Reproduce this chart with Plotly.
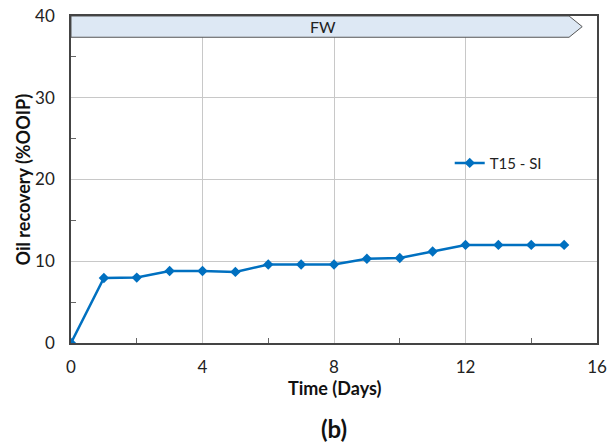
import plotly.graph_objects as go

# Data
days = [0, 1, 2, 3, 4, 5, 6, 7, 8, 9, 10, 11, 12, 13, 14, 15]
recovery = [0, 7.95, 8.0, 8.8, 8.8, 8.7, 9.6, 9.6, 9.6, 10.3, 10.4, 11.2, 12.0, 12.0, 12.0, 12.0]
series_name = "T15 - SI"

phase_labels = ["FW"]
phase_start = [0]
phase_end = [15.55]

x_ticks = [0, 4, 8, 12, 16]
y_ticks = [0, 10, 20, 30, 40]

FONT = "Lato, 'Open Sans', sans-serif"
BLUE = "#0070C0"

fig = go.Figure()
fig.add_trace(go.Scatter(
    x=days, y=recovery, mode="lines+markers", name=series_name,
    line=dict(color=BLUE, width=2.5),
    marker=dict(symbol="diamond", size=8, color=BLUE),
))

# phase arrow band
band_top, band_bot = 40, 37.4
for lab, s, e in zip(phase_labels, phase_start, phase_end):
    body_end = e - 0.4
    mid = (band_top + band_bot) / 2
    path = (f"M {s},{band_bot} L {body_end},{band_bot} L {e},{mid} "
            f"L {body_end},{band_top} L {s},{band_top} Z")
    fig.add_shape(type="path", path=path, xref="x", yref="y",
                  fillcolor="#DDE8F4", line=dict(color="#555555", width=1), layer="above")
    fig.add_annotation(x=(s + e) / 2 - 0.1, y=mid, text=lab, showarrow=False,
                       font=dict(family=FONT, size=16, color="#222222"), xref="x", yref="y")

# axis titles and panel label
fig.add_annotation(x=0.5, y=0, xref="paper", yref="paper", yshift=-45, text="<b>Time (Days)</b>",
                   xanchor="center", yanchor="middle",
                   showarrow=False, font=dict(family=FONT, size=18, color="#111111"))
fig.add_annotation(x=0, y=0.5, xref="paper", yref="paper", xshift=-49, text="<b>Oil recovery (%OOIP)</b>",
                   xanchor="center", yanchor="middle",
                   textangle=-90, showarrow=False, font=dict(family=FONT, size=18, color="#111111"))
fig.add_annotation(x=0.5, y=0, xref="paper", yref="paper", yshift=-85, text="<b>(b)</b>",
                   xanchor="center", yanchor="middle",
                   showarrow=False, font=dict(family=FONT, size=24, color="#111111"))

fig.update_layout(
    width=608, height=445,
    margin=dict(l=71, r=11, t=16, b=102, autoexpand=False),
    paper_bgcolor="white", plot_bgcolor="white",
    font=dict(family=FONT, size=17, color="#222222"),
    showlegend=True,
    legend=dict(x=0.72, y=0.55, xanchor="left", yanchor="middle",
                bgcolor="rgba(0,0,0,0)", font=dict(family=FONT, size=15),
                itemwidth=30, tracegroupgap=0),
)
fig.update_xaxes(
    range=[0, 16], tickvals=x_ticks, ticks="", showgrid=True, gridcolor="#C8C8C8",
    gridwidth=1, showline=True, linecolor="#444444", linewidth=1.5, mirror=True,
    zeroline=False, automargin=False, ticklabelstandoff=8,
    minor=dict(tickvals=[2, 6, 10, 14], ticks="inside", ticklen=5, tickcolor="#666666", showgrid=False),
    tickfont=dict(size=17),
)
fig.update_yaxes(
    range=[0, 40], tickvals=y_ticks, ticks="", showgrid=True, gridcolor="#C8C8C8",
    gridwidth=1, showline=True, linecolor="#444444", linewidth=1.5, mirror=True,
    zeroline=False, automargin=False, ticklabelstandoff=11,
    minor=dict(tickvals=[5, 15, 25, 35], ticks="inside", ticklen=5, tickcolor="#666666", showgrid=False),
    tickfont=dict(size=17),
)

fig.write_html("out.html")
